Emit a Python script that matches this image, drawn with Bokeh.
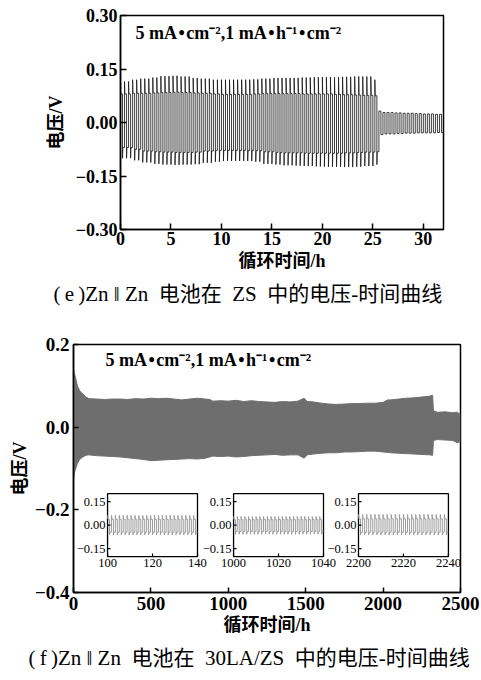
import numpy as np
from bokeh.plotting import figure
from bokeh.models import Range1d, FixedTicker, Label, Title
from bokeh.core.properties import value
from bokeh.embed import file_html
from bokeh.resources import INLINE

# ---------------- data: panel (e) ZS ----------------
e_hours = [0, 1, 2, 3, 4, 5, 6, 7, 8, 9, 10, 11, 12, 13, 14, 15, 16, 17, 18, 19, 20, 21, 22, 23, 24, 25]
e_spike_hi = [0.115, 0.12, 0.123, 0.126, 0.13, 0.131, 0.129, 0.125, 0.123, 0.12, 0.12, 0.12, 0.12,
              0.121, 0.123, 0.125, 0.125, 0.125, 0.126, 0.127, 0.127, 0.127, 0.128, 0.129, 0.129, 0.12]
e_plat_hi = [0.08, 0.082, 0.082, 0.083, 0.084, 0.085, 0.084, 0.083, 0.082, 0.08, 0.079, 0.079, 0.079,
             0.08, 0.081, 0.081, 0.081, 0.081, 0.08, 0.08, 0.08, 0.079, 0.078, 0.077, 0.076, 0.075]
e_plat_lo = [-0.07, -0.075, -0.08, -0.082, -0.083, -0.084, -0.084, -0.083, -0.08, -0.078, -0.078, -0.078, -0.078,
             -0.079, -0.082, -0.084, -0.085, -0.085, -0.086, -0.086, -0.086, -0.086, -0.085, -0.084, -0.083, -0.082]
e_spike_lo = [-0.1, -0.106, -0.112, -0.116, -0.118, -0.119, -0.118, -0.117, -0.113, -0.11, -0.108, -0.108, -0.108,
              -0.11, -0.116, -0.118, -0.12, -0.121, -0.122, -0.123, -0.124, -0.124, -0.125, -0.124, -0.122, -0.118]
e_cycle_period = 0.4      # h per charge/discharge cycle
e_short_time = 25.6       # h, voltage collapse
e_post_hours = [25.6, 26, 27, 28, 29, 30, 31, 32]
e_post_hi = [0.032, 0.028, 0.027, 0.026, 0.025, 0.024, 0.023, 0.022]
e_post_lo = [-0.034, -0.032, -0.031, -0.030, -0.029, -0.029, -0.028, -0.028]
e_xticks = [0, 5, 10, 15, 20, 25, 30]
e_yticks = [-0.3, -0.15, 0.0, 0.15, 0.3]
e_ylabels = ["\u22120.30", "\u22120.15", "0.00", "0.15", "0.30"]

# ---------------- data: panel (f) 30LA/ZS ----------------
f_t = [0, 10, 25, 40, 60, 80, 100, 150, 200, 250, 300, 350, 400, 450, 500, 550, 600, 650, 700, 750, 800,
       850, 880, 900, 950, 1000, 1050, 1100, 1150, 1200, 1250, 1300, 1350, 1400, 1450, 1490, 1510, 1550,
       1600, 1650, 1700, 1750, 1800, 1850, 1900, 1950, 2000, 2030, 2050, 2100, 2150, 2200, 2250, 2300,
       2320, 2325, 2350, 2400, 2450, 2480, 2500]
f_hi = [0.14, 0.125, 0.1, 0.088, 0.08, 0.073, 0.069, 0.068, 0.067, 0.068, 0.068, 0.067, 0.069, 0.068, 0.07,
        0.069, 0.07, 0.068, 0.066, 0.068, 0.07, 0.068, 0.067, 0.063, 0.064, 0.063, 0.065, 0.062, 0.064, 0.062,
        0.061, 0.06, 0.062, 0.061, 0.063, 0.07, 0.062, 0.061, 0.058, 0.056, 0.055, 0.056, 0.057, 0.057, 0.058,
        0.058, 0.06, 0.066, 0.066, 0.068, 0.07, 0.071, 0.073, 0.075, 0.077, 0.04, 0.036, 0.037, 0.035, 0.036, 0.03]
f_lo = [-0.125, -0.105, -0.088, -0.078, -0.072, -0.068, -0.067, -0.069, -0.07, -0.071, -0.072, -0.074, -0.076,
        -0.078, -0.081, -0.08, -0.079, -0.078, -0.077, -0.076, -0.077, -0.075, -0.072, -0.07, -0.071, -0.07,
        -0.072, -0.071, -0.069, -0.068, -0.067, -0.066, -0.068, -0.067, -0.067, -0.075, -0.067, -0.065, -0.063,
        -0.062, -0.062, -0.06, -0.06, -0.059, -0.058, -0.058, -0.06, -0.061, -0.062, -0.063, -0.064, -0.065,
        -0.066, -0.067, -0.068, -0.032, -0.03, -0.031, -0.032, -0.038, -0.034]
f_xticks = [0, 500, 1000, 1500, 2000, 2500]
f_yticks = [-0.4, -0.2, 0.0, 0.2]
f_ylabels = ["\u22120.4", "\u22120.2", "0.0", "0.2"]

# insets (zoomed windows of panel f)
ins_windows = [(100, 140), (1000, 1040), (2200, 2240)]
ins_cycles = [23, 24, 22]
ins_spike_hi = [0.062, 0.055, 0.068]
ins_plat_hi = [0.037, 0.035, 0.04]
ins_plat_lo = [-0.045, -0.04, -0.045]
ins_spike_lo = [-0.062, -0.058, -0.062]
ins_xticks = [[100, 120, 140], [1000, 1020, 1040], [2200, 2220, 2240]]
ins_yticks = [-0.15, 0.0, 0.15]
ins_ylabels = ["\u22120.15", "0.00", "0.15"]

cond_text = "5 mA\u200a\u2022\u200acm\u207b\u00b2,1 mA\u200a\u2022\u200ah\u207b\u00b9\u200a\u2022\u200acm\u207b\u00b2"
xlabel = "循环时间/h"
ylabel = "电压/V"
cap_e = "(\u2009e\u2009)Zn \u2016 Zn\u2002电池在\u2002ZS\u2002中的电压-时间曲线"
cap_f = "(\u2009f\u2009)Zn \u2016 Zn\u2002电池在\u200230LA/ZS\u2002中的电压-时间曲线"

SERIF = "Liberation Serif"
MIX = "Liberation Serif, Noto Sans CJK SC"


def wave(starts, period, hs, hp, lp, ls, spike_frac=0.08):
    xs, ys = [], []
    half = period / 2.0
    d = period * spike_frac
    for t, a, b, c, e in zip(starts, hs, hp, lp, ls):
        xs += [t, t + d, t + half, t + half, t + half + d, t + period]
        ys += [a, b, b, e, c, c]
    return xs, ys


def style(p, fs, xt, yt, ylabs, xstand, ystand, tick_in, xl_stand, yl_stand):
    p.xgrid.visible = False
    p.ygrid.visible = False
    p.outline_line_color = "black"
    p.outline_line_width = 1.5
    p.outline_line_alpha = 1
    p.xaxis.ticker = FixedTicker(ticks=xt)
    p.yaxis.ticker = FixedTicker(ticks=yt)
    p.yaxis.major_label_overrides = {t: l for t, l in zip(yt, ylabs)}
    p.xaxis.major_label_overrides = {t: str(t) for t in xt}
    for ax in (p.xaxis, p.yaxis):
        ax.axis_line_color = "black"
        ax.axis_line_width = 1.5
        ax.major_tick_line_color = "black"
        ax.major_tick_line_width = 1.5
        ax.major_tick_in = tick_in
        ax.major_tick_out = 0
        ax.minor_tick_line_color = None
        ax.major_label_text_font = SERIF
        ax.major_label_text_font_style = "bold"
        ax.major_label_text_font_size = fs
        ax.major_label_text_color = "black"
        ax.axis_label_text_font = MIX
        ax.axis_label_text_font_style = "bold"
        ax.axis_label_text_font_size = "18px"
        ax.axis_label_text_color = "black"
    p.xaxis.major_label_standoff = xstand
    p.yaxis.major_label_standoff = ystand
    p.xaxis.axis_label = xlabel
    p.yaxis.axis_label = ylabel
    p.xaxis.axis_label_standoff = xl_stand
    p.yaxis.axis_label_standoff = yl_stand


def add_cond(p, x, y):
    p.add_layout(Label(x=x, y=y, x_units="screen", y_units="screen", text=cond_text,
                       text_font=SERIF, text_font_size="18px", text_font_style="bold",
                       text_align="left", text_baseline="middle", text_color="black"))


def add_caption(p, text, offset, standoff, size):
    p.add_layout(Title(text=text, align="left", offset=offset, standoff=standoff,
                       text_font=MIX, text_font_size=size, text_font_style="normal",
                       text_color="black"), "below")


# ---------------- panel (e) ----------------
pe = figure(width=481, height=312, x_range=Range1d(0, 32), y_range=Range1d(-0.3, 0.3),
            output_backend="svg", toolbar_location=None,
            min_border_left=120, min_border_right=38, min_border_top=15, min_border_bottom=83)
style(pe, "18px", e_xticks, e_yticks, e_ylabels, 2, 3, 6, 3, 7)

n_main = int(round(e_short_time / e_cycle_period))
starts = [k * e_cycle_period for k in range(n_main)]
idx = [min(int(t), len(e_hours) - 1) for t in starts]
xs, ys = wave(starts, e_cycle_period,
              [e_spike_hi[i] for i in idx], [e_plat_hi[i] for i in idx],
              [e_plat_lo[i] for i in idx], [e_spike_lo[i] for i in idx])
n_post = int(round((e_post_hours[-1] - e_short_time) / e_cycle_period))
pstarts = [e_short_time + k * e_cycle_period for k in range(n_post)]
pidx = [int(np.searchsorted(e_post_hours, t, side="right")) - 1 for t in pstarts]
pxs, pys = wave(pstarts, e_cycle_period,
                [e_post_hi[i] for i in pidx], [e_post_hi[i] for i in pidx],
                [e_post_lo[i] for i in pidx], [e_post_lo[i] for i in pidx])
pe.line(xs + pxs, ys + pys, line_color="#1a1a1a", line_width=0.85)

add_cond(pe, 15, 197)
add_caption(pe, cap_e, -67, 12, "21px")

# ---------------- panel (f) ----------------
pf = figure(width=481, height=368, x_range=Range1d(0, 2500), y_range=Range1d(-0.4, 0.2),
            output_backend="svg", toolbar_location=None,
            min_border_left=73, min_border_right=21, min_border_top=32, min_border_bottom=88)
style(pf, "19px", f_xticks, f_yticks, f_ylabels, 4, 4, 5, 2, 2)
pf.varea(x=f_t, y1=f_lo, y2=f_hi, fill_color="#6e6e6e", fill_alpha=1.0)
pf.line(f_t, f_hi, line_color="#6e6e6e", line_width=1)
pf.line(f_t, f_lo, line_color="#6e6e6e", line_width=1)

# inset placement (in panel-f data coordinates) — layout, not data
ins_boxes_x = [(220, 801), (1034, 1615), (1841, 2422)]
ins_box_y = (-0.313, -0.161)
ins_yrange = (-0.2, 0.2)
X0, X1 = 0, 2500
Y0, Y1 = -0.4, 0.2

for i, ((a0, a1), (b0, b1)) in enumerate(zip(ins_windows, ins_boxes_x)):
    sx = (a1 - a0) / (b1 - b0)
    xr = Range1d(a0 - (b0 - X0) * sx, a0 + (X1 - b0) * sx)
    c0, c1 = ins_yrange
    sy = (c1 - c0) / (ins_box_y[1] - ins_box_y[0])
    yr = Range1d(c0 - (ins_box_y[0] - Y0) * sy, c0 + (Y1 - ins_box_y[0]) * sy)
    xn, yn = f"ix{i}", f"iy{i}"
    pf.extra_x_ranges[xn] = xr
    pf.extra_y_ranges[yn] = yr
    pf.quad(left=[a0], right=[a1], bottom=[c0], top=[c1], fill_color="white",
            line_color="black", line_width=1.3, x_range_name=xn, y_range_name=yn)
    per = (a1 - a0) / ins_cycles[i]
    st = [a0 + k * per for k in range(ins_cycles[i])]
    n = len(st)
    wx, wy = wave(st, per, [ins_spike_hi[i]] * n, [ins_plat_hi[i]] * n,
                  [ins_plat_lo[i]] * n, [ins_spike_lo[i]] * n, spike_frac=0.12)
    pf.line(wx, wy, line_color="#9c9c9c", line_width=1.0, x_range_name=xn, y_range_name=yn)
    tl_x = 3 * (a1 - a0) / 90.0
    tl_y = 3 * (c1 - c0) / 63.0
    pf.segment(x0=[a0] * 3, y0=ins_yticks, x1=[a0 + tl_x] * 3, y1=ins_yticks,
               line_color="black", line_width=1.2, x_range_name=xn, y_range_name=yn)
    xt = ins_xticks[i]
    pf.segment(x0=xt, y0=[c0] * len(xt), x1=xt, y1=[c0 + tl_y] * len(xt),
               line_color="black", line_width=1.2, x_range_name=xn, y_range_name=yn)
    pf.text(x=[a0] * 3, y=ins_yticks, text=ins_ylabels, x_offset=-2,
            text_font=value(SERIF), text_font_size="12.5px", text_align="right",
            text_baseline="middle", text_color="black", x_range_name=xn, y_range_name=yn)
    pf.text(x=xt, y=[c0] * len(xt), text=[str(v) for v in xt], y_offset=2,
            text_font=value(SERIF), text_font_size="12.5px", text_align="center",
            text_baseline="top", text_color="black", x_range_name=xn, y_range_name=yn)

add_cond(pf, 32, 233)
add_caption(pf, cap_f, -45, 12, "21px")

open("out.html", "w").write(file_html([pe, pf], INLINE))
